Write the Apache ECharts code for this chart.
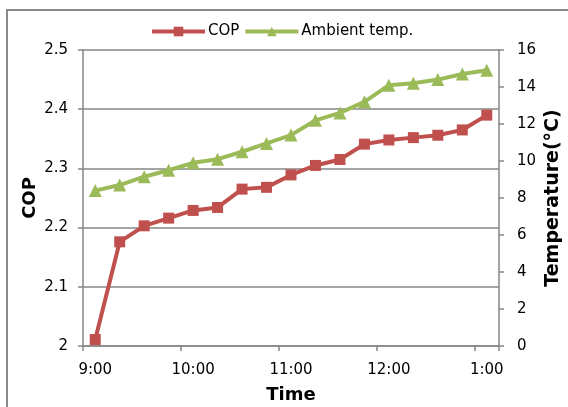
<!DOCTYPE html>
<html>
<head>
<meta charset="utf-8">
<script src="https://cdn.jsdelivr.net/npm/echarts@6/dist/echarts.min.js"></script>
<style>
  html, body { margin: 0; padding: 0; background: #fff; overflow: hidden; }
  #chart { width: 568px; height: 407px; }
</style>
</head>
<body>
<div id="chart"></div>
<script>
// Time of day, every 15 minutes from 9:00 to 1:00
const times = ['9:00', '9:15', '9:30', '9:45', '10:00', '10:15', '10:30', '10:45',
  '11:00', '11:15', '11:30', '11:45', '12:00', '12:15', '12:30', '12:45', '1:00'];

// Coefficient of performance
const cop = [2.011, 2.176, 2.203, 2.216, 2.229, 2.234, 2.265, 2.268,
  2.289, 2.305, 2.315, 2.341, 2.348, 2.352, 2.356, 2.365, 2.390];

// Ambient temperature (°C)
const ambientTemp = [8.4, 8.7, 9.15, 9.5, 9.9, 10.1, 10.5, 10.95,
  11.4, 12.2, 12.6, 13.2, 14.1, 14.2, 14.4, 14.7, 14.9];

const FONT = '"DejaVu Sans", Verdana, sans-serif';
const AXIS_GRAY = '#868686';
const FRAME_GRAY = '#8c8c8c';
const RED = '#C0504D';
const GREEN = '#9BBB59';

const chart = echarts.init(document.getElementById('chart'), null, { renderer: 'canvas' });

const nameStyle = (size) => ({ fontFamily: FONT, fontSize: size, fontWeight: 'bold', color: '#000' });

chart.setOption({
  animation: false,
  backgroundColor: '#fff',
  textStyle: { fontFamily: FONT, color: '#000' },
  // chart frame: top and left edges
  graphic: [{
    type: 'line',
    shape: { x1: 6, y1: 10, x2: 568, y2: 10 },
    style: { stroke: FRAME_GRAY, lineWidth: 2 },
    silent: true
  }, {
    type: 'line',
    shape: { x1: 7, y1: 9, x2: 7, y2: 407 },
    style: { stroke: FRAME_GRAY, lineWidth: 2 },
    silent: true
  }],
  legend: {
    top: 19,
    left: 145,
    itemWidth: 53,
    itemHeight: 12,
    itemGap: 4,
    lineStyle: { width: 4 },
    textStyle: { fontFamily: FONT, fontSize: 15, color: '#000', padding: [0, 0, 0, -2] },
    data: ['COP', 'Ambient temp.']
  },
  grid: {
    left: 83, right: 69, top: 50, bottom: 61,
    containLabel: false,
    outerBoundsMode: 'none'
  },
  xAxis: {
    type: 'category',
    data: times,
    boundaryGap: true,
    name: 'Time',
    nameLocation: 'middle',
    nameGap: 40,
    nameMoveOverlap: false,
    nameTextStyle: nameStyle(18),
    axisLine: { show: true, lineStyle: { color: AXIS_GRAY, width: 1.5 } },
    axisTick: { show: true, interval: 3, length: 5, lineStyle: { color: AXIS_GRAY, width: 1.5 } },
    axisLabel: { interval: 3, margin: 17, fontSize: 15, color: '#000', fontFamily: FONT },
    splitLine: { show: false }
  },
  yAxis: [{
    type: 'value',
    position: 'left',
    min: 2,
    max: 2.5,
    interval: 0.1,
    name: 'COP',
    nameLocation: 'middle',
    nameGap: 44,
    nameMoveOverlap: false,
    nameRotate: 90,
    nameTextStyle: nameStyle(18),
    axisLine: { show: true, lineStyle: { color: AXIS_GRAY, width: 1.5 } },
    axisTick: { show: true, length: 5, lineStyle: { color: AXIS_GRAY, width: 1.5 } },
    axisLabel: { margin: 15, fontSize: 15, color: '#000', fontFamily: FONT },
    splitLine: { show: true, lineStyle: { color: AXIS_GRAY, width: 1.5 } }
  }, {
    type: 'value',
    position: 'right',
    min: 0,
    max: 16,
    interval: 2,
    name: 'Temperature(°C)',
    nameLocation: 'middle',
    nameGap: 45,
    nameMoveOverlap: false,
    nameRotate: 90,
    nameTextStyle: nameStyle(19),
    axisLine: { show: true, lineStyle: { color: AXIS_GRAY, width: 1.5 } },
    axisTick: { show: true, length: 5, lineStyle: { color: AXIS_GRAY, width: 1.5 } },
    axisLabel: { margin: 18, fontSize: 15, color: '#000', fontFamily: FONT },
    splitLine: { show: false }
  }],
  series: [{
    name: 'COP',
    type: 'line',
    yAxisIndex: 0,
    data: cop,
    symbol: 'rect',
    symbolSize: 11,
    lineStyle: { color: RED, width: 4 },
    itemStyle: { color: RED, borderWidth: 0 },
    z: 3
  }, {
    name: 'Ambient temp.',
    type: 'line',
    yAxisIndex: 1,
    data: ambientTemp,
    symbol: 'triangle',
    symbolSize: 13,
    lineStyle: { color: GREEN, width: 4 },
    itemStyle: { color: GREEN, borderWidth: 0 },
    z: 2
  }]
});
</script>
</body>
</html>
